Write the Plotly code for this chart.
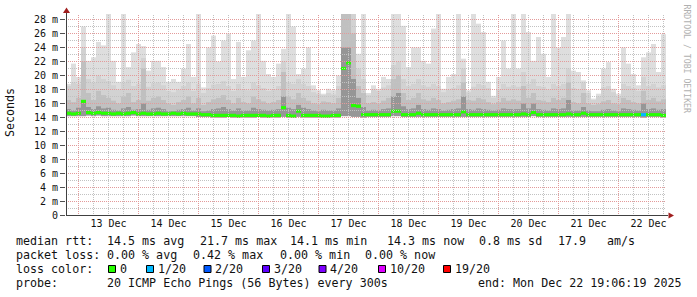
import pandas as pd
import plotly.graph_objects as go

# ---------------- data ----------------
bin_start = "2025-12-12 19:00"
bin_hours = 2

ping_max = [
    18.8, 21.7, 19.8, 27.0, 22.1, 22.6, 24.8, 24.3, 29.0, 22.1, 19.1, 29.0, 21.2, 23.3, 24.5, 24.2, 20.7, 22.1, 22.1, 21.2, 19.1, 19.5, 19.1, 21.0, 24.5, 19.8, 29.0, 18.3, 24.0, 25.7,
    22.0, 25.0, 26.0, 19.5, 24.8, 19.8, 23.6, 25.0, 29.0, 22.1, 20.2, 19.8, 21.7, 23.8, 29.0, 27.0, 20.2, 21.0, 24.0, 18.6, 17.9, 17.4, 18.1, 17.9, 20.0, 29.0, 29.0, 29.0, 23.1, 29.0,
    17.5, 18.6, 18.1, 19.8, 19.5, 29.0, 29.0, 27.1, 21.2, 24.0, 24.0, 22.1, 21.7, 26.7, 29.0, 18.1, 19.8, 20.2, 29.0, 22.4, 17.9, 29.0, 27.4, 26.2, 19.1, 17.1, 19.8, 25.0, 21.0, 29.0,
    21.0, 29.0, 26.2, 22.1, 25.5, 23.1, 19.8, 29.0, 24.0, 25.5, 29.0, 20.7, 20.5, 19.3, 17.9, 16.7, 17.4, 21.0, 21.9, 18.1, 17.4, 24.0, 21.7, 20.2, 18.6, 22.6, 23.3, 24.5, 20.5, 25.9,
]
ping_p85 = [
    18.5, 19.0, 18.8, 24.0, 19.5, 19.0, 20.0, 19.5, 19.2, 18.6, 18.0, 19.0, 19.4, 18.5, 18.8, 22.5, 18.4, 18.9, 19.0, 18.6, 17.8, 17.6, 18.0, 18.5, 19.0, 17.8, 18.8, 17.5, 18.2, 18.7,
    18.8, 19.2, 18.5, 17.8, 18.8, 18.0, 17.9, 19.0, 18.6, 18.2, 17.8, 18.0, 18.5, 22.0, 19.0, 18.8, 19.5, 18.8, 18.5, 17.6, 17.4, 17.2, 17.5, 17.3, 18.5, 29.0, 29.0, 29.0, 21.0, 19.5,
    17.2, 18.0, 17.8, 18.3, 18.6, 21.5, 22.0, 19.5, 18.5, 18.8, 19.5, 18.6, 18.4, 18.8, 18.5, 17.6, 18.0, 18.2, 18.6, 21.0, 17.6, 18.4, 18.8, 18.6, 18.2, 16.8, 18.0, 18.8, 18.4, 18.6,
    18.4, 20.5, 18.8, 19.5, 18.5, 18.4, 18.0, 18.8, 18.5, 18.8, 21.0, 18.2, 18.0, 19.0, 17.5, 16.5, 17.0, 18.3, 18.5, 17.6, 17.0, 18.8, 18.5, 18.2, 17.8, 19.8, 18.5, 18.8, 18.3, 18.6,
]
ping_p70 = [
    16.5, 16.2, 16.8, 22.0, 17.5, 16.5, 17.8, 17.2, 16.8, 16.4, 16.0, 17.0, 17.5, 16.2, 16.5, 21.0, 16.4, 16.8, 17.0, 16.5, 16.0, 15.8, 16.2, 16.5, 17.0, 16.0, 16.8, 15.8, 16.2, 16.6,
    16.8, 17.2, 16.5, 16.0, 16.8, 16.2, 16.0, 17.0, 16.6, 16.3, 16.0, 16.2, 16.5, 20.5, 17.0, 16.6, 17.5, 16.8, 16.4, 16.0, 15.9, 16.3, 16.2, 16.0, 16.8, 29.0, 29.0, 26.0, 18.5, 17.5,
    16.0, 16.2, 16.0, 16.4, 16.8, 19.5, 20.0, 17.5, 16.5, 16.8, 17.5, 16.6, 16.4, 16.8, 16.5, 16.0, 16.2, 16.4, 16.6, 19.0, 16.5, 16.4, 16.8, 16.6, 16.2, 15.9, 16.2, 16.8, 16.4, 16.6,
    16.4, 18.5, 16.8, 17.5, 16.5, 16.4, 16.2, 16.8, 16.5, 16.8, 19.0, 16.2, 16.0, 17.5, 16.0, 15.8, 15.9, 16.3, 16.5, 16.0, 15.9, 16.8, 16.5, 16.2, 16.0, 17.8, 16.5, 16.8, 16.3, 16.6,
]
ping_p55 = [
    15.2, 15.0, 15.4, 16.5, 15.5, 15.2, 15.6, 15.3, 15.4, 15.1, 15.0, 15.3, 15.5, 15.1, 15.2, 16.0, 15.1, 15.3, 15.4, 15.2, 14.9, 14.9, 15.1, 15.2, 15.4, 15.0, 15.3, 14.9, 15.0, 15.2,
    15.3, 15.5, 15.2, 15.0, 15.3, 15.0, 15.0, 15.4, 15.2, 15.1, 15.0, 15.1, 15.2, 17.0, 15.4, 15.2, 15.8, 15.4, 15.2, 15.0, 14.9, 15.1, 15.0, 15.0, 15.3, 24.0, 24.0, 19.5, 16.8, 15.5,
    15.0, 15.1, 15.0, 15.2, 15.3, 17.0, 17.5, 15.6, 15.2, 15.3, 15.8, 15.2, 15.1, 15.3, 15.2, 15.0, 15.1, 15.2, 15.3, 17.0, 15.2, 15.1, 15.3, 15.2, 15.1, 15.0, 15.1, 15.3, 15.2, 15.2,
    15.2, 16.0, 15.3, 16.0, 15.2, 15.1, 15.0, 15.3, 15.2, 15.3, 16.5, 15.0, 15.0, 15.5, 15.0, 14.9, 14.9, 15.1, 15.2, 15.0, 14.9, 15.3, 15.2, 15.1, 15.0, 16.0, 15.2, 15.3, 15.1, 15.2,
]
median_rtt = [
    14.6, 14.5, 14.6, 16.3, 14.7, 14.6, 14.7, 14.6, 14.6, 14.5, 14.6, 14.5, 14.6, 14.7, 14.5, 14.6, 14.5, 14.5, 14.6, 14.5, 14.5, 14.6, 14.5, 14.6, 14.5, 14.5, 14.5, 14.4, 14.4, 14.3,
    14.3, 14.3, 14.3, 14.3, 14.2, 14.3, 14.3, 14.3, 14.3, 14.3, 14.2, 14.3, 14.3, 15.4, 14.3, 14.2, 14.9, 14.3, 14.3, 14.3, 14.3, 14.2, 14.2, 14.3, 14.3, 21.0, 21.8, 15.7, 15.6, 14.4,
    14.4, 14.4, 14.4, 14.4, 14.4, 14.9, 14.9, 14.4, 14.4, 14.4, 14.6, 14.4, 14.4, 14.4, 14.4, 14.4, 14.4, 14.4, 14.4, 14.8, 14.4, 14.4, 14.4, 14.4, 14.4, 14.4, 14.4, 14.4, 14.4, 14.4,
    14.4, 14.5, 14.4, 14.7, 14.4, 14.4, 14.4, 14.4, 14.4, 14.4, 14.5, 14.4, 14.4, 14.6, 14.4, 14.4, 14.4, 14.4, 14.4, 14.4, 14.4, 14.4, 14.4, 14.4, 14.4, 14.4, 14.4, 14.4, 14.4, 14.3,
]
ping_min = [
    14.2, 14.2, 14.2, 14.2, 14.3, 14.2, 14.3, 14.2, 14.2, 14.2, 14.2, 14.2, 14.2, 14.3, 14.2, 14.2, 14.2, 14.2, 14.2, 14.2, 14.2, 14.2, 14.2, 14.2, 14.2, 14.2, 14.1, 14.1, 14.1, 14.0,
    14.0, 14.0, 14.1, 14.0, 14.0, 14.0, 14.0, 14.0, 14.1, 14.0, 14.0, 14.0, 14.0, 14.1, 14.0, 14.0, 14.1, 14.0, 14.0, 14.0, 14.0, 14.0, 14.0, 14.0, 14.0, 14.2, 14.2, 14.1, 14.1, 14.0,
    14.1, 14.1, 14.1, 14.1, 14.1, 14.2, 14.2, 14.1, 14.1, 14.1, 14.1, 14.1, 14.1, 14.1, 14.1, 14.1, 14.1, 14.1, 14.1, 14.1, 14.1, 14.1, 14.1, 14.1, 14.1, 14.1, 14.1, 14.1, 14.1, 14.1,
    14.1, 14.1, 14.1, 14.2, 14.1, 14.1, 14.1, 14.1, 14.1, 14.1, 14.1, 14.1, 14.1, 14.1, 14.1, 14.1, 14.1, 14.1, 14.1, 14.1, 14.1, 14.1, 14.1, 14.1, 14.1, 14.0, 14.1, 14.1, 14.1, 14.0,
]
loss = [
    0, 0, 0, 0, 0, 0, 0, 0, 0, 0, 0, 0, 0, 0, 0, 0, 0, 0, 0, 0, 0, 0, 0, 0, 0, 0, 0, 0, 0, 0,
    0, 0, 0, 0, 0, 0, 0, 0, 0, 0, 0, 0, 0, 0, 0, 0, 0, 0, 0, 0, 0, 0, 0, 0, 0, 0, 0, 0, 0, 0,
    0, 0, 0, 0, 0, 0, 0, 0, 0, 0, 0, 0, 0, 0, 0, 0, 0, 0, 0, 0, 0, 0, 0, 0, 0, 0, 0, 0, 0, 0,
    0, 0, 0, 0, 0, 0, 0, 0, 0, 0, 0, 0, 0, 0, 0, 0, 0, 0, 0, 0, 0, 0, 0, 0, 0, 1, 0, 0, 0, 0,
]

day_dates = ["2025-12-13", "2025-12-14", "2025-12-15", "2025-12-16", "2025-12-17",
             "2025-12-18", "2025-12-19", "2025-12-20", "2025-12-21", "2025-12-22"]
y_ticks = [0, 2, 4, 6, 8, 10, 12, 14, 16, 18, 20, 22, 24, 26, 28]
y_labels = ["0"] + [f"{v} m" for v in y_ticks[1:]]

loss_levels = [0, 1, 2, 3, 4, 10, 19]
loss_names = ["0", "1/20", "2/20", "3/20", "4/20", "10/20", "19/20"]
loss_colors = ["#26ff00", "#00b8ff", "#0059ff", "#5e00ff", "#7e00ff", "#dd00ff", "#ff0000"]

rtt_texts = ["median rtt:", "14.5 ms avg", "21.7 ms max", "14.1 ms min", "14.3 ms now", "0.8 ms sd", "17.9", "am/s"]
loss_texts = ["packet loss:", "0.00 % avg", "0.42 % max", "0.00 % min", "0.00 % now"]
probe_texts = ["probe:", "20 ICMP Echo Pings (56 Bytes) every 300s", "end: Mon Dec 22 19:06:19 2025"]

# ---------------- geometry ----------------
W, H = 697, 297
L, R, T, B = 66, 31, 14, 81
PW, PH = W - L - R, H - T - B
PXM = 7.0  # pixels per ms


def px(x):
    return (x - L) / PW


def py(y):
    return (H - B - y) / PH


MONO = "DejaVu Sans Mono"

t0 = pd.Timestamp(bin_start)
step = pd.Timedelta(hours=bin_hours)
n = len(ping_max)
t_end = t0 + n * step
centers = [t0 + step * (i + 0.5) for i in range(n)]
width_ms = step.total_seconds() * 1000

fig = go.Figure()
layers = [(ping_max, "#dedede"), (ping_p85, "#d2d2d2"), (ping_p70, "#c0c0c0"), (ping_p55, "#969696")]
for vals, col in layers:
    fig.add_trace(go.Bar(
        x=centers, y=[v - m for v, m in zip(vals, ping_min)], base=ping_min,
        width=width_ms, marker=dict(color=col, line=dict(width=0)), hoverinfo="skip"))


def loss_color(l):
    idx = max(i for i, lv in enumerate(loss_levels) if lv <= l)
    return loss_colors[idx]


fig.add_trace(go.Bar(
    x=centers, y=[0.45] * n, base=[m - 0.22 for m in median_rtt], width=width_ms,
    marker=dict(color=[loss_color(l) for l in loss], line=dict(width=0)), hoverinfo="skip"))

shapes = []
MAJ = "#e39a9a"
MIN = "#c2c2c2"
# vertical grid every 6h
t = t0.ceil("6h")
while t < t_end:
    major = t.hour == 0
    shapes.append(dict(type="line", xref="x", yref="paper", x0=t, x1=t, y0=0, y1=1, layer="above",
                       line=dict(color=MAJ if major else MIN, width=1, dash="1px,1px")))
    t += pd.Timedelta(hours=6)
# horizontal grid every 1 ms
for v in range(1, 29):
    major = v % 2 == 0
    shapes.append(dict(type="line", xref="paper", yref="y", x0=0, x1=1, y0=v, y1=v, layer="above",
                       line=dict(color=MAJ if major else MIN, width=1, dash="1px,1px")))
AX = "#404040"
ARR = "#a01e1e"
# axis lines
shapes.append(dict(type="line", xref="paper", yref="y", x0=0, x1=px(668), y0=0, y1=0,
                   layer="above", line=dict(color=AX, width=1)))
shapes.append(dict(type="line", xref="paper", yref="paper", x0=px(66.5), x1=px(66.5),
                   y0=py(215.5), y1=py(12), layer="above", line=dict(color=AX, width=1)))
# arrows
shapes.append(dict(type="path", xref="paper", yref="paper", layer="above",
                   path=f"M{px(66.5)},{py(7.5)} L{px(63)},{py(13)} L{px(70)},{py(13)} Z",
                   fillcolor=ARR, line=dict(width=0)))
shapes.append(dict(type="path", xref="paper", yref="paper", layer="above",
                   path=f"M{px(674)},{py(215.5)} L{px(668.5)},{py(212.5)} L{px(668.5)},{py(218.5)} Z",
                   fillcolor=ARR, line=dict(width=0)))

annotations = []
FS = 11.66


def txt(s, x, y, size=FS, color="#111111", **kw):
    annotations.append(dict(text=s.replace(" ", "\u00a0"), x=px(x), y=py(y), xref="paper", yref="paper",
                            xanchor=kw.pop("xanchor", "left"), yanchor="middle", showarrow=False,
                            borderpad=0, borderwidth=0,
                            font=dict(family=MONO, size=size, color=color), **kw))


rtt_x = [16, 107.3, 200, 290, 386.7, 479.3, 558.3, 606.7]
for s, x in zip(rtt_texts, rtt_x):
    txt(s, x, 241)
loss_x = [16, 107.3, 193.3, 280, 365]
for s, x in zip(loss_texts, loss_x):
    txt(s, x, 255.2)
txt("loss color:", 16, 269.2)
box_x = [108, 146, 203.5, 262, 318.5, 378, 443]
for name, col, bx in zip(loss_names, loss_colors, box_x):
    shapes.append(dict(type="rect", xref="paper", yref="paper", x0=px(bx + 0.5), x1=px(bx + 7.5),
                       y0=py(265.5), y1=py(272.5), fillcolor=col, line=dict(color="#000000", width=1)))
    txt(name, bx + 11.5, 269.2)
probe_x = [16, 107.3, 478.3]
for s, x in zip(probe_texts, probe_x):
    txt(s, x, 283.4)

txt("Seconds", 10, 113, xanchor="center", textangle=-90)
txt("RRDTOOL / TOBI OETIKER", 686.5, 59, size=8.2, color="#b0b0b0", xanchor="center", textangle=90)

fig.update_layout(
    width=W, height=H, margin=dict(l=L, r=R, t=T, b=B, pad=0),
    paper_bgcolor="white", plot_bgcolor="white", showlegend=False,
    barmode="overlay", shapes=shapes, annotations=annotations,
    xaxis=dict(type="date", range=[t0, t_end], showgrid=False, zeroline=False, showline=False,
               tickvals=[pd.Timestamp(d) + pd.Timedelta(hours=12) for d in day_dates],
               ticktext=[pd.Timestamp(d).strftime("%d %b") for d in day_dates],
               ticks="", tickfont=dict(family=MONO, size=10, color="#111111"), fixedrange=True),
    yaxis=dict(range=[-0.5 / PXM, (PH - 0.5) / PXM], showgrid=False, zeroline=False, showline=False,
               tickvals=y_ticks, ticktext=y_labels, ticks="outside", ticklen=5, tickwidth=1,
               tickcolor="#505050", tickfont=dict(family=MONO, size=10, color="#111111"),
               fixedrange=True),
)

fig.write_html("out.html", config={"displayModeBar": False})
